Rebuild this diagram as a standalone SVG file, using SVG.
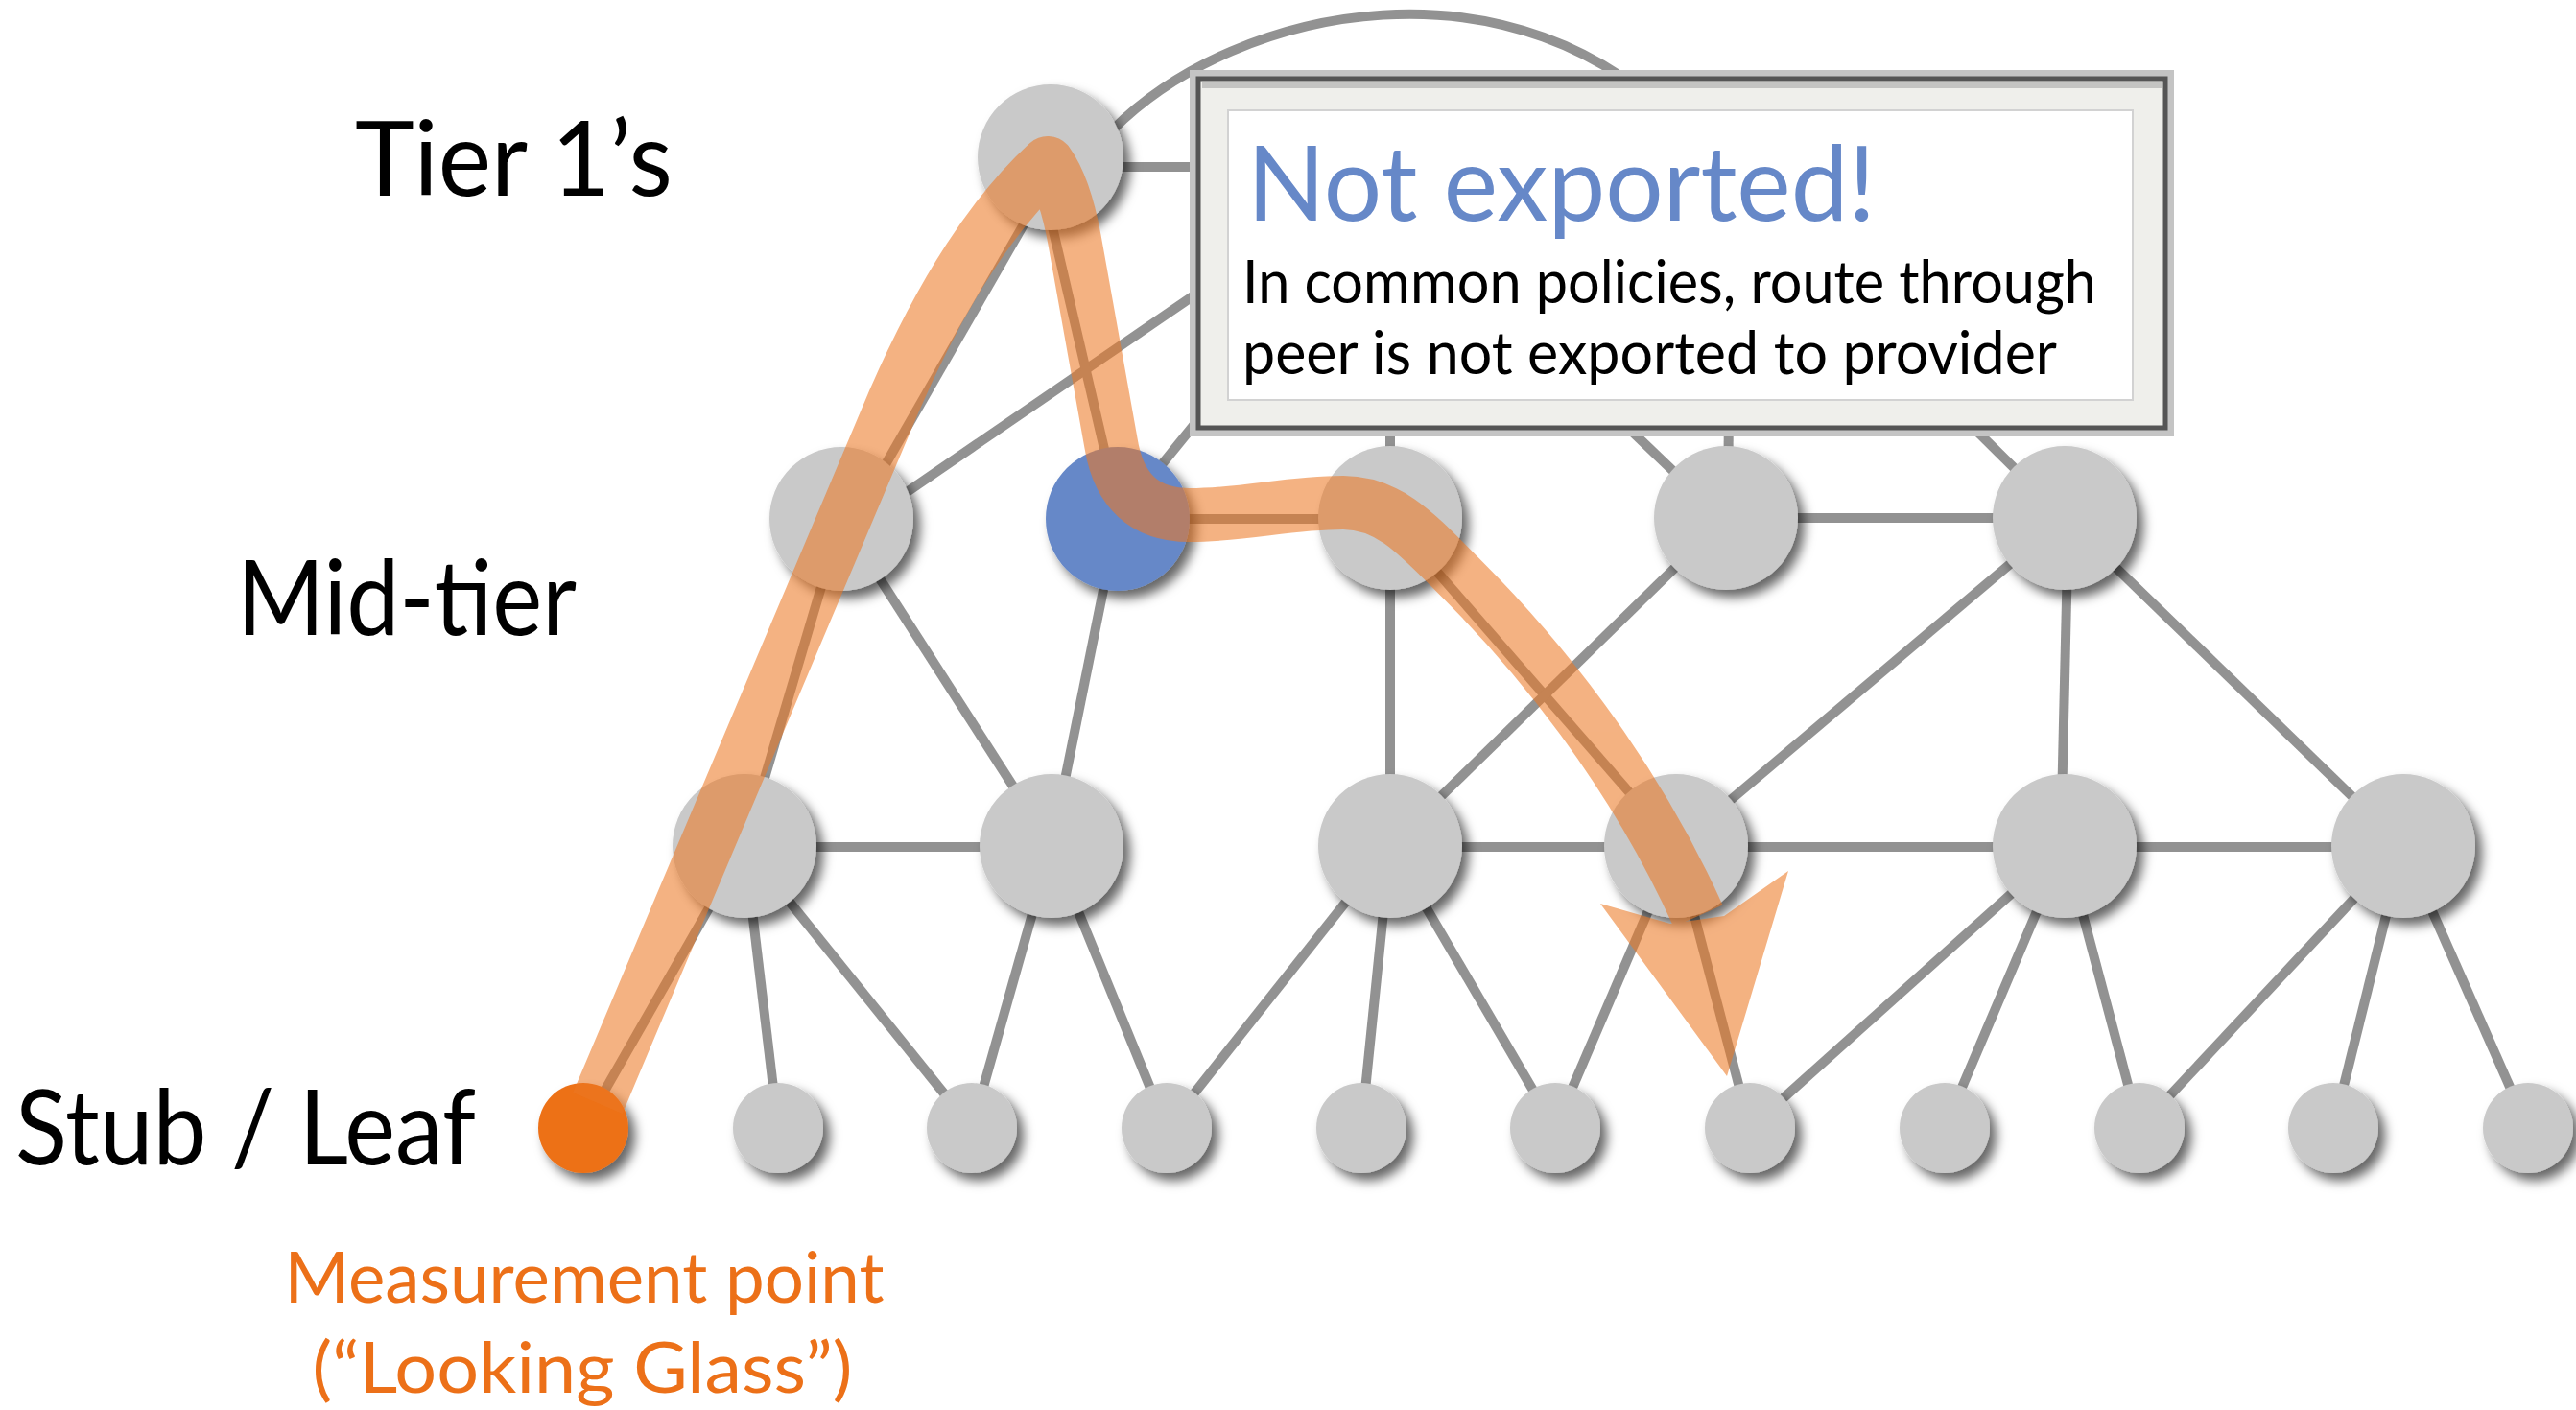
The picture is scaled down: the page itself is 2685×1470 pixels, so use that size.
<svg xmlns="http://www.w3.org/2000/svg" width="2685" height="1470" viewBox="0 0 2685 1470">
<style>
  .edge { stroke: #929292; stroke-width: 10; fill: none; }
  .node { fill: #c9c9c9; filter: url(#shadow); }
  .lbl { font-family: Lato, "Open Sans", "Liberation Sans", sans-serif; fill: #000; }
</style>
<defs>
  <filter id="shadow" x="-30%" y="-30%" width="170%" height="170%">
    <feDropShadow dx="7" dy="8" stdDeviation="6" flood-color="#000" flood-opacity="0.6"/>
  </filter>
</defs>
<rect width="2685" height="1470" fill="#fff"/>

<g id="connectors">
  <!-- hidden tier-1 links (under callout) -->
  <path class="edge" d="M1160,135 C1290,5 1580,-55 1760,140"/>
  <line class="edge" x1="1095" y1="174" x2="1320" y2="174"/>
  <line class="edge" x1="900" y1="544" x2="1300" y2="270"/>
  <line class="edge" x1="1165" y1="541" x2="1328" y2="340"/>
  <line class="edge" x1="1449" y1="540" x2="1449" y2="300"/>
  <line class="edge" x1="1795" y1="540" x2="1600" y2="353"/>
  <line class="edge" x1="1801" y1="540" x2="1803" y2="300"/>
  <line class="edge" x1="2152" y1="540" x2="1960" y2="350"/>
  <!-- tier1 to mid -->
  <line class="edge" x1="1105" y1="168" x2="888" y2="545"/>
  <line class="edge" x1="1080" y1="164" x2="1168" y2="541"/>
  <!-- mid row -->
  <line class="edge" x1="1165" y1="541" x2="1449" y2="541"/>
  <line class="edge" x1="1799" y1="540" x2="2152" y2="540"/>
  <!-- mid to row3 -->
  <line class="edge" x1="877" y1="541" x2="776" y2="882"/>
  <line class="edge" x1="877" y1="541" x2="1096" y2="882"/>
  <line class="edge" x1="1165" y1="541" x2="1096" y2="882"/>
  <line class="edge" x1="1449" y1="540" x2="1449" y2="882"/>
  <line class="edge" x1="1449" y1="540" x2="1747" y2="882"/>
  <line class="edge" x1="1799" y1="540" x2="1449" y2="882"/>
  <line class="edge" x1="2152" y1="540" x2="1747" y2="882"/>
  <line class="edge" x1="2156" y1="540" x2="2148" y2="882"/>
  <line class="edge" x1="2152" y1="540" x2="2505" y2="882"/>
  <!-- row3 -->
  <line class="edge" x1="776" y1="883" x2="1096" y2="883"/>
  <line class="edge" x1="1449" y1="883" x2="1747" y2="883"/>
  <line class="edge" x1="1747" y1="883" x2="2152" y2="883"/>
  <line class="edge" x1="2152" y1="883" x2="2505" y2="883"/>
  <!-- row3 to leaves -->
  <line class="edge" x1="776" y1="882" x2="608" y2="1176"/>
  <line class="edge" x1="776" y1="882" x2="811" y2="1176"/>
  <line class="edge" x1="776" y1="882" x2="1013" y2="1176"/>
  <line class="edge" x1="1096" y1="882" x2="1013" y2="1176"/>
  <line class="edge" x1="1096" y1="882" x2="1216" y2="1176"/>
  <line class="edge" x1="1449" y1="882" x2="1216" y2="1176"/>
  <line class="edge" x1="1449" y1="882" x2="1419" y2="1176"/>
  <line class="edge" x1="1449" y1="882" x2="1621" y2="1176"/>
  <line class="edge" x1="1747" y1="882" x2="1621" y2="1176"/>
  <line class="edge" x1="1747" y1="882" x2="1824" y2="1176"/>
  <line class="edge" x1="2152" y1="882" x2="1824" y2="1176"/>
  <line class="edge" x1="2152" y1="882" x2="2027" y2="1176"/>
  <line class="edge" x1="2152" y1="882" x2="2230" y2="1176"/>
  <line class="edge" x1="2505" y1="882" x2="2230" y2="1176"/>
  <line class="edge" x1="2505" y1="882" x2="2432" y2="1176"/>
  <line class="edge" x1="2505" y1="882" x2="2635" y2="1176"/>
</g>

<g id="tier1"><circle class="node" cx="1095" cy="164" r="76"/></g>

<g id="mid1"><circle class="node" cx="877" cy="541" r="75"/></g>
<g id="mid2"><circle class="node" cx="1165" cy="541" r="75" style="fill:#6688c8"/></g>
<g id="mid3"><circle class="node" cx="1449" cy="540" r="75"/></g>
<g id="mid4"><circle class="node" cx="1799" cy="540" r="75"/></g>
<g id="mid5"><circle class="node" cx="2152" cy="540" r="75"/></g>

<g id="r3a"><circle class="node" cx="776" cy="882" r="75"/></g>
<g id="r3b"><circle class="node" cx="1096" cy="882" r="75"/></g>
<g id="r3c"><circle class="node" cx="1449" cy="882" r="75"/></g>
<g id="r3d"><circle class="node" cx="1747" cy="882" r="75"/></g>
<g id="r3e"><circle class="node" cx="2152" cy="882" r="75"/></g>
<g id="r3f"><circle class="node" cx="2505" cy="882" r="75"/></g>

<g id="leaf0"><circle class="node" cx="608" cy="1176" r="47" style="fill:#ed7118"/></g>
<g id="leaf1"><circle class="node" cx="811" cy="1176" r="47"/></g>
<g id="leaf2"><circle class="node" cx="1013" cy="1176" r="47"/></g>
<g id="leaf3"><circle class="node" cx="1216" cy="1176" r="47"/></g>
<g id="leaf4"><circle class="node" cx="1419" cy="1176" r="47"/></g>
<g id="leaf5"><circle class="node" cx="1621" cy="1176" r="47"/></g>
<g id="leaf6"><circle class="node" cx="1824" cy="1176" r="47"/></g>
<g id="leaf7"><circle class="node" cx="2027" cy="1176" r="47"/></g>
<g id="leaf8"><circle class="node" cx="2230" cy="1176" r="47"/></g>
<g id="leaf9"><circle class="node" cx="2432" cy="1176" r="47"/></g>
<g id="leaf10"><circle class="node" cx="2635" cy="1176" r="47"/></g>

<g id="route" opacity="0.57">
  <path d="M623,1150 L932,418 Q1005,250 1092,170 Q1110,195 1120,250 L1158,462 Q1170,537 1240,537 C1300,537 1340,524 1400,524 C1450,524 1480,560 1525,605 C1600,680 1700,800 1770,955" fill="none" stroke="#ec7823" stroke-width="56" stroke-linejoin="round"/>
  <polygon points="1741,963 1668,942 1800,1122 1864,908 1797,955" fill="#ec7823"/>
</g>

<g id="callout">
  <rect x="1240" y="73" width="1026" height="382" fill="#c4c4c4"/>
  <rect x="1249" y="82" width="1008" height="364" fill="#efefeb" stroke="#555" stroke-width="5"/>
  <rect x="1253" y="86" width="1000" height="6" fill="#9a9a9a" opacity="0.5"/>
  <rect x="1280" y="115" width="943" height="302" fill="#fff" stroke="#d2d2d2" stroke-width="2"/>
  <text class="lbl" x="1300" y="230" font-size="108" textLength="655" lengthAdjust="spacingAndGlyphs" style="fill:#6688c8">Not exported!</text>
  <text class="lbl" x="1295" y="316" font-size="61" textLength="890" lengthAdjust="spacingAndGlyphs">In common policies, route through</text>
  <text class="lbl" x="1295" y="390" font-size="61" textLength="849" lengthAdjust="spacingAndGlyphs">peer is not exported to provider</text>
</g>

<g id="labels">
  <text class="lbl" x="370" y="204" font-size="108" textLength="331" lengthAdjust="spacingAndGlyphs">Tier 1’s</text>
  <text class="lbl" x="247" y="662" font-size="108" textLength="354" lengthAdjust="spacingAndGlyphs">Mid-tier</text>
  <text class="lbl" x="16" y="1214" font-size="108" textLength="480" lengthAdjust="spacingAndGlyphs">Stub / Leaf</text>
  <text class="lbl" x="609" y="1358" font-size="74" text-anchor="middle" textLength="625" lengthAdjust="spacingAndGlyphs" style="fill:#ec7018">Measurement point</text>
  <text class="lbl" x="607" y="1452" font-size="74" text-anchor="middle" textLength="563" lengthAdjust="spacingAndGlyphs" style="fill:#ec7018">(“Looking Glass”)</text>
</g>
</svg>
